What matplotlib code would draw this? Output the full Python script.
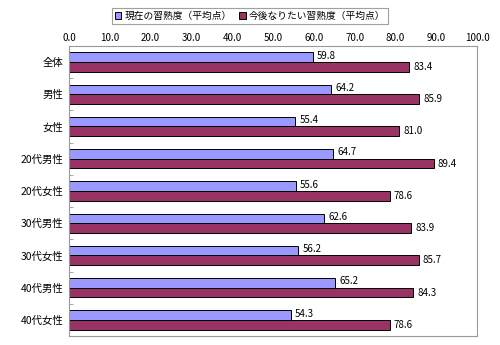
import matplotlib
matplotlib.use("Agg")
import matplotlib.pyplot as plt
import numpy as np

plt.rcParams['font.family'] = ['Noto Sans CJK JP', 'DejaVu Sans']

categories = ['全体', '男性', '女性', '20代男性', '20代女性', '30代男性', '30代女性', '40代男性', '40代女性']
current = [59.8, 64.2, 55.4, 64.7, 55.6, 62.6, 56.2, 65.2, 54.3]
future = [83.4, 85.9, 81.0, 89.4, 78.6, 83.9, 85.7, 84.3, 78.6]
series_names = ['現在の習熟度（平均点）', '今後なりたい習熟度（平均点）']

fig = plt.figure(figsize=(5, 3.45), dpi=100)
ax = fig.add_axes([0.138, 0.026, 0.816, 0.841])

y = np.arange(len(categories))
h = 0.3
b1 = ax.barh(y - h / 2, current, h, color='#9999FF', edgecolor='black', linewidth=0.7, label=series_names[0])
b2 = ax.barh(y + h / 2, future, h, color='#993366', edgecolor='black', linewidth=0.7, label=series_names[1])

for i in range(len(categories)):
    ax.annotate(f'{current[i]:.1f}', (current[i], y[i] - h / 2), xytext=(3, 1),
                textcoords='offset points', ha='left', va='center', fontsize=7)
    ax.annotate(f'{future[i]:.1f}', (future[i], y[i] + h / 2), xytext=(3, 0),
                textcoords='offset points', ha='left', va='center', fontsize=7)

ax.set_xlim(0, 100)
ax.set_ylim(len(categories) - 0.5, -0.5)
ax.set_xticks(np.arange(0, 101, 10))
ax.set_xticklabels([f'{v:.1f}' for v in np.arange(0, 101, 10)], fontsize=7)
ax.xaxis.tick_top()
ax.tick_params(axis='x', length=0, pad=2)
ax.set_yticks(y)
ax.set_yticklabels(categories, fontsize=7.5)
ax.set_yticks(np.arange(-0.5, len(categories), 1), minor=True)
ax.tick_params(axis='y', which='major', length=0, pad=4)
ax.tick_params(axis='y', which='minor', direction='in', length=3, color='#999999')
for s in ax.spines.values():
    s.set_color('#999999')
    s.set_linewidth(0.8)

leg = fig.legend(handles=[b1, b2], loc='upper center', bbox_to_anchor=(0.5, 0.99), ncol=2,
                 fontsize=7, frameon=True, fancybox=False, edgecolor='#888888',
                 handlelength=0.7, handleheight=0.7, handletextpad=0.3, columnspacing=0.8,
                 borderpad=0.3)
leg.get_frame().set_linewidth(0.8)

fig.savefig('out.png', dpi=100)
